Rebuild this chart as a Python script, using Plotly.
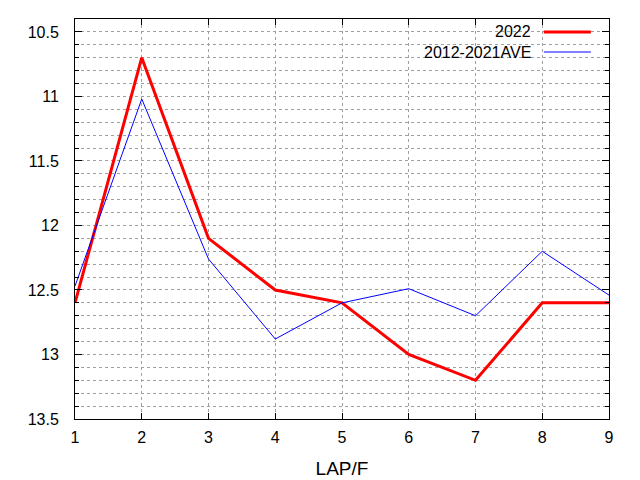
import plotly.graph_objects as go

# データ
laps = [1, 2, 3, 4, 5, 6, 7, 8, 9]
y_2022 = [12.6, 10.7, 12.1, 12.5, 12.6, 13.0, 13.2, 12.6, 12.6]
y_ave = [12.47, 11.02, 12.26, 12.88, 12.6, 12.49, 12.7, 12.2, 12.54]
names = ["2022", "2012-2021AVE"]
y_tickvals = [10.5, 11, 11.5, 12, 12.5, 13, 13.5]
y_ticktext = ["10.5", "11", "11.5", "12", "12.5", "13", "13.5"]

font_name = "Liberation Sans"
grid_col = "#a0a0a0"

fig = go.Figure()
fig.add_trace(go.Scatter(x=laps, y=y_2022, mode="lines", name=names[0],
                         line=dict(color="#ff0000", width=3)))
fig.add_trace(go.Scatter(x=laps, y=y_ave, mode="lines", name=names[1],
                         line=dict(color="#0000ff", width=1)))

# gnuplot風の凡例（右寄せテキスト＋右側にサンプル線）
fig.add_shape(type="rect", xref="paper", yref="paper", x0=0.627, x1=1.0,
              y0=0.885, y1=1.0, fillcolor="white", line_width=0, layer="between")
legend_rows = [(0.9675, "#ff0000", 3), (0.9175, "#0000ff", 1)]
for (ypos, col, w), label in zip(legend_rows, names):
    fig.add_annotation(x=0.858, y=ypos, xref="paper", yref="paper", text=label,
                       showarrow=False, xanchor="right", yanchor="middle",
                       font=dict(family=font_name, size=16, color="black"))
    fig.add_shape(type="line", xref="paper", yref="paper", x0=0.878, x1=0.966,
                  y0=ypos, y1=ypos, line=dict(color=col, width=w))

# ページ余白(8px)を差し引いたサイズ
fig.update_layout(
    width=632, height=472,
    margin=dict(l=67, r=31, t=11, b=61),
    paper_bgcolor="white", plot_bgcolor="white",
    showlegend=False,
    font=dict(family=font_name, size=16, color="black"),
)
fig.update_xaxes(
    range=[1, 9], tickmode="linear", tick0=1, dtick=1,
    showline=True, linecolor="black", linewidth=1, mirror="allticks",
    ticks="inside", ticklen=6, tickcolor="black",
    showgrid=True, gridcolor=grid_col, griddash="3px,3px", gridwidth=1,
    zeroline=False, ticklabelstandoff=4, automargin=False,
    title=dict(text="LAP/F", standoff=16),
)
fig.update_yaxes(
    range=[13.5, 10.4], tickmode="array", tickvals=y_tickvals, ticktext=y_ticktext,
    showline=True, linecolor="black", linewidth=1, mirror="allticks",
    ticks="inside", ticklen=7, tickcolor="black",
    showgrid=True, gridcolor=grid_col, griddash="3px,3px", gridwidth=1,
    minor=dict(dtick=0.1, tick0=10.5, ticks="inside", ticklen=4, tickcolor="black",
               showgrid=True, gridcolor=grid_col, griddash="3px,3px", gridwidth=1),
    zeroline=False, ticklabelstandoff=12, automargin=False,
)

fig.write_html("out.html")
